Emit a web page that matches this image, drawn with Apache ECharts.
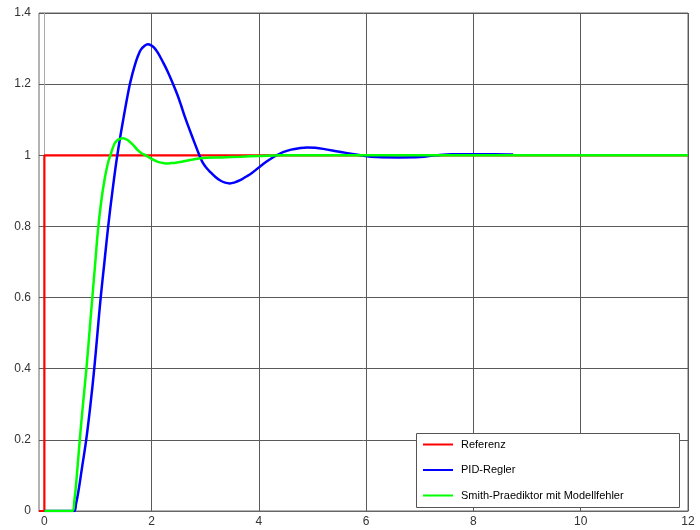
<!DOCTYPE html>
<html>
<head>
<meta charset="utf-8">
<script src="https://cdn.jsdelivr.net/npm/echarts@6/dist/echarts.min.js"></script>
<style>html,body{margin:0;padding:0;background:#fff}#c{width:700px;height:530px}</style>
</head>
<body>
<div id="c"></div>
<script>
// Data
var xTicks = [0, 2, 4, 6, 8, 10, 12];
var seriesNames = ['Referenz', 'PID-Regler', 'Smith-Praediktor mit Modellfehler'];

var referenz = [[-0.1, 0], [0, 0], [0, 1], [12, 1]];

var pidRegler = [
  [0, 0], [0.55, 0], [0.59, 0.02], [0.64, 0.06], [0.70, 0.12], [0.78, 0.20], [0.86, 0.30],
  [0.93, 0.40], [0.99, 0.50], [1.05, 0.60], [1.12, 0.70], [1.19, 0.80], [1.27, 0.90],
  [1.36, 1.00], [1.47, 1.10], [1.58, 1.19], [1.64, 1.228], [1.70, 1.26], [1.75, 1.281],
  [1.80, 1.297], [1.87, 1.308], [1.93, 1.312], [1.99, 1.309], [2.05, 1.302], [2.12, 1.287],
  [2.20, 1.265], [2.30, 1.235], [2.40, 1.20], [2.48, 1.17], [2.55, 1.14], [2.62, 1.108],
  [2.70, 1.075], [2.80, 1.035], [2.89, 1.00], [2.95, 0.98], [3.02, 0.965], [3.10, 0.952],
  [3.19, 0.939], [3.28, 0.929], [3.37, 0.923], [3.46, 0.921], [3.55, 0.924], [3.65, 0.930],
  [3.75, 0.939], [3.85, 0.948], [4.00, 0.966], [4.15, 0.983], [4.33, 1.00], [4.45, 1.009],
  [4.60, 1.016], [4.75, 1.020], [4.90, 1.022], [5.05, 1.021], [5.20, 1.018], [5.50, 1.010],
  [5.90, 1.00], [6.20, 0.995], [6.60, 0.994], [7.00, 0.995], [7.30, 1.00],
  [7.60, 1.003], [8.00, 1.003], [8.40, 1.003], [8.74, 1.002]
];

var smith = [
  [0, 0], [0.52, 0], [0.56, 0.03], [0.60, 0.09], [0.66, 0.20], [0.72, 0.30], [0.79, 0.41],
  [0.85, 0.52], [0.90, 0.61], [0.95, 0.70], [1.00, 0.79], [1.06, 0.87], [1.12, 0.93],
  [1.18, 0.975], [1.23, 1.00], [1.30, 1.03], [1.34, 1.039], [1.38, 1.044], [1.42, 1.047],
  [1.46, 1.048], [1.50, 1.047], [1.55, 1.043], [1.60, 1.037], [1.65, 1.03], [1.75, 1.013],
  [1.82, 1.005], [1.89, 1.00], [2.00, 0.99], [2.08, 0.984], [2.15, 0.98], [2.22, 0.978],
  [2.29, 0.977], [2.37, 0.978], [2.45, 0.979], [2.60, 0.983], [2.91, 0.992], [3.30, 0.994],
  [3.66, 0.996], [4.00, 0.998], [4.40, 1.00], [12, 1.00]
];

var colors = ['#ff0000', '#0000ff', '#00ff00'];
var font = '"Liberation Sans", Arial, sans-serif';

var chart = echarts.init(document.getElementById('c'), null, {renderer: 'canvas'});
chart.setOption({
  animation: false,
  backgroundColor: '#ffffff',
  grid: {left: 39, right: 12, top: 13, bottom: 19, show: true, borderColor: '#666', borderWidth: 1},
  xAxis: {
    type: 'value', min: -0.1, max: 12,
    axisLine: {show: true, lineStyle: {color: '#666', width: 1}},
    axisTick: {show: false, customValues: xTicks},
    axisLabel: {customValues: xTicks, fontSize: 12, color: '#333', fontFamily: font, margin: 5},
    splitLine: {show: true, lineStyle: {color: '#5a5a5a', width: 1}}
  },
  yAxis: {
    type: 'value', min: 0, max: 1.4, interval: 0.2,
    axisLine: {show: true, lineStyle: {color: '#aaa', width: 1}},
    axisTick: {show: false},
    axisLabel: {fontSize: 12, color: '#333', fontFamily: font, margin: 8},
    splitLine: {show: true, lineStyle: {color: '#5a5a5a', width: 1}}
  },
  graphic: [{
    type: 'rect', z: 50, left: 416, top: 433,
    shape: {width: 263, height: 74},
    style: {fill: '#fff', stroke: '#555', lineWidth: 1}
  }],
  legend: {
    z: 60, orient: 'vertical', left: 423, top: 439,
    icon: 'rect', itemWidth: 30, itemHeight: 2, itemGap: 14.5, padding: 0,
    data: seriesNames,
    textStyle: {fontSize: 11, color: '#000', fontFamily: font, padding: [0, 0, 0, 3]}
  },
  series: [
    {name: seriesNames[0], type: 'line', data: referenz, symbol: 'none', z: 2,
     lineStyle: {color: colors[0], width: 2.2}, itemStyle: {color: colors[0]}},
    {name: seriesNames[1], type: 'line', data: pidRegler, symbol: 'none', smooth: 0.4, z: 3,
     lineStyle: {color: colors[1], width: 2.5}, itemStyle: {color: colors[1]}},
    {name: seriesNames[2], type: 'line', data: smith, symbol: 'none', smooth: 0.4, z: 4,
     lineStyle: {color: colors[2], width: 2.5}, itemStyle: {color: colors[2]}}
  ]
});
</script>
</body>
</html>
